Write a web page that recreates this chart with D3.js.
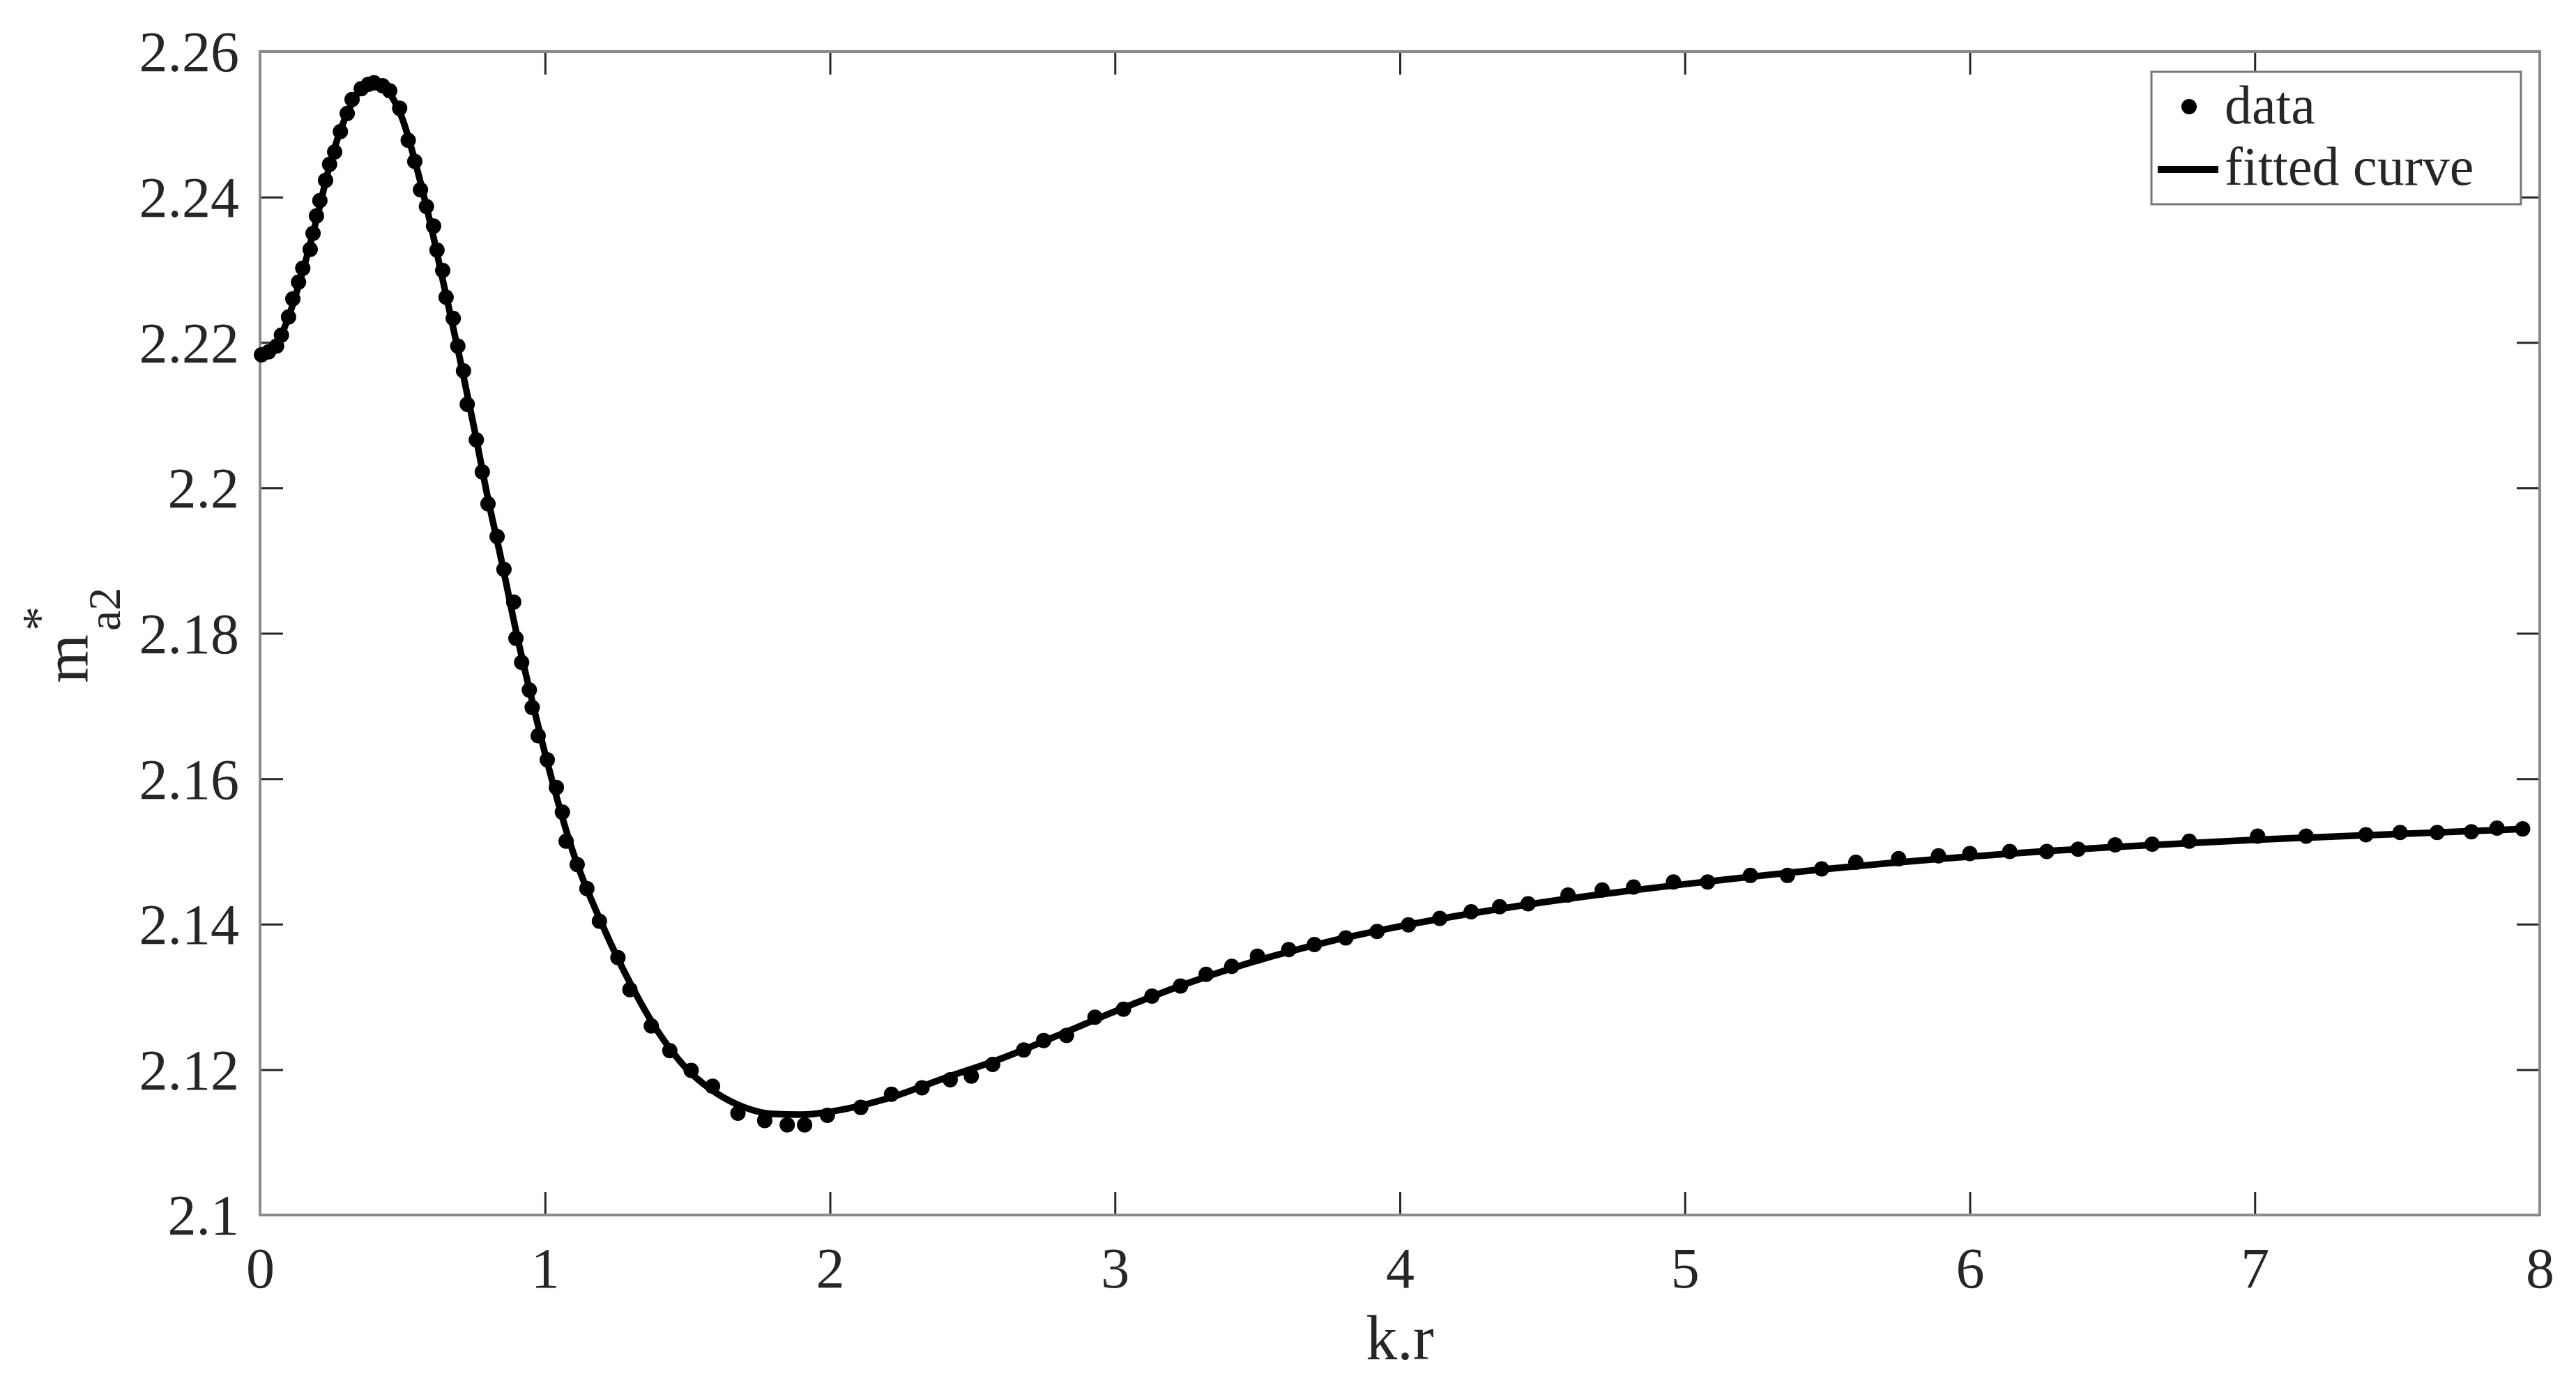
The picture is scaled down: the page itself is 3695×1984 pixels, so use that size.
<!DOCTYPE html>
<html>
<head>
<meta charset="utf-8">
<script src="https://cdn.jsdelivr.net/npm/d3@7"></script>
<style>
  html, body { margin: 0; padding: 0; background: #fff; }
  svg { display: block; }
  text { font-family: "Liberation Serif", "Times New Roman", serif; fill: #262626; }
</style>
</head>
<body>
<svg id="chart" width="3695" height="1984"></svg>
<script>
// ---- data ----
const dataX = [0.005,0.03,0.058,0.075,0.10,0.115,0.135,0.150,0.176,0.186,0.198,0.210,0.230,0.244,0.262,0.282,0.306,0.323,0.355,0.380,0.400,0.430,0.455,0.490,0.520,0.543,0.563,0.584,0.609,0.621,0.641,0.653,0.678,0.694,0.714,0.727,0.759,0.780,0.800,0.832,0.856,0.890,0.898,0.918,0.945,0.955,0.976,1.008,1.040,1.061,1.074,1.113,1.147,1.191,1.256,1.298,1.373,1.438,1.513,1.588,1.677,1.771,1.850,1.911,1.991,2.108,2.216,2.323,2.422,2.496,2.571,2.680,2.750,2.830,2.930,3.030,3.130,3.230,3.320,3.410,3.500,3.610,3.700,3.810,3.920,4.030,4.140,4.250,4.350,4.450,4.590,4.710,4.820,4.960,5.080,5.230,5.360,5.480,5.600,5.750,5.890,6.000,6.140,6.270,6.380,6.510,6.640,6.770,7.010,7.180,7.390,7.510,7.640,7.760,7.850,7.940];
const dataY = [2.2183,2.2187,2.2195,2.2210,2.2235,2.2260,2.2283,2.2302,2.2328,2.2350,2.2374,2.2395,2.2423,2.2445,2.2462,2.2490,2.2515,2.2534,2.2549,2.2555,2.2557,2.2553,2.2546,2.2522,2.2478,2.2449,2.2410,2.2387,2.2360,2.2327,2.2299,2.2262,2.2233,2.2195,2.2161,2.2115,2.2066,2.2022,2.1978,2.1933,2.1888,2.1843,2.1793,2.1760,2.1722,2.1698,2.1659,2.1626,2.1588,2.1554,2.1514,2.1482,2.1449,2.1404,2.1354,2.1310,2.1260,2.1226,2.1199,2.1177,2.1140,2.1130,2.1124,2.1124,2.1137,2.1148,2.1166,2.1175,2.1186,2.1191,2.1207,2.1227,2.1240,2.1247,2.1272,2.1283,2.1301,2.1315,2.1331,2.1342,2.1356,2.1365,2.1372,2.1381,2.1390,2.1399,2.1408,2.1417,2.1424,2.1428,2.1440,2.1447,2.1451,2.1458,2.1458,2.1467,2.1467,2.1476,2.1485,2.1490,2.1494,2.1497,2.1500,2.1500,2.1503,2.1509,2.1510,2.1514,2.1521,2.1521,2.1523,2.1526,2.1526,2.1527,2.1532,2.1531];

const fitX = [0,0.05,0.1,0.15,0.2,0.25,0.3,0.35,0.4,0.45,0.5,0.55,0.6,0.65,0.7,0.75,0.8,0.85,0.9,0.95,1.0,1.1,1.2,1.3,1.4,1.5,1.6,1.7,1.8,1.9,2.0,2.2,2.4,2.6,2.8,3.0,3.25,3.5,3.75,4.0,4.5,5.0,5.5,6.0,6.5,7.0,7.5,7.95];
const fitY = [2.2183,2.2193,2.2235,2.2298,2.2372,2.2452,2.2510,2.2546,2.2557,2.2545,2.2507,2.2440,2.2360,2.2270,2.2180,2.2085,2.1985,2.1895,2.1800,2.1715,2.1635,2.1497,2.1400,2.1318,2.1250,2.1200,2.1168,2.1148,2.1139,2.1138,2.1142,2.1160,2.1188,2.1215,2.1247,2.1280,2.1318,2.1350,2.1376,2.1397,2.1430,2.1455,2.1476,2.1493,2.1506,2.1516,2.1524,2.1531];

const xTicks = [0,1,2,3,4,5,6,7,8];
const yTicks = [2.1,2.12,2.14,2.16,2.18,2.2,2.22,2.24,2.26];
const legendLabels = ["data", "fitted curve"];
const xLabel = "k.r";

// ---- layout ----
const L = 373, R = 3643, T = 74, B = 1743;
const svg = d3.select("#chart");
const x = d3.scaleLinear().domain([0, 8]).range([L, R]);
const y = d3.scaleLinear().domain([2.1, 2.26]).range([B, T]);

const tickLen = 33;
const tickFont = 82;
const fmt = d3.format("~g");

// ticks (inward, on all four sides)
const axB = d3.axisBottom(x).tickValues(xTicks).tickSize(-tickLen).tickPadding(46).tickFormat(fmt);
const axT = d3.axisTop(x).tickValues(xTicks).tickSize(-tickLen).tickFormat("");
const axL = d3.axisLeft(y).tickValues(yTicks).tickSize(-tickLen).tickPadding(30).tickFormat(fmt);
const axR = d3.axisRight(y).tickValues(yTicks).tickSize(-tickLen).tickFormat("");

function styleAxis(g) {
  g.select(".domain").remove();
  g.selectAll(".tick line").attr("stroke", "#262626").attr("stroke-width", 3);
  g.selectAll(".tick text").style("font-family", '"Liberation Serif", serif')
    .style("font-size", tickFont + "px").attr("fill", "#262626");
}
svg.append("g").attr("transform", `translate(0,${B})`).call(axB).call(styleAxis)
  .selectAll(".tick text").attr("dy", "0.71em");
svg.append("g").attr("transform", `translate(0,${T})`).call(axT).call(styleAxis);
svg.append("g").attr("transform", `translate(${L},0)`).call(axL).call(styleAxis)
  .selectAll(".tick text").attr("dy", "0.34em");
svg.append("g").attr("transform", `translate(${R},0)`).call(axR).call(styleAxis);

// axes box
svg.append("rect").attr("x", L).attr("y", T).attr("width", R - L).attr("height", B - T)
  .attr("fill", "none").attr("stroke", "#8a8a8a").attr("stroke-width", 4);

// fitted curve
const fit = fitX.map((d, i) => [d, fitY[i]]);
svg.append("path").datum(fit)
  .attr("fill", "none").attr("stroke", "#000").attr("stroke-width", 9.5)
  .attr("stroke-linejoin", "round").attr("stroke-linecap", "butt")
  .attr("d", d3.line().x(d => x(d[0])).y(d => y(d[1])).curve(d3.curveMonotoneX));

// data points
const pts = dataX.map((d, i) => [d, dataY[i]]);
svg.append("g").selectAll("circle").data(pts).join("circle")
  .attr("cx", d => x(d[0])).attr("cy", d => y(d[1])).attr("r", 11).attr("fill", "#000");

// x label
svg.append("text").attr("x", (L + R) / 2).attr("y", 1950).attr("text-anchor", "middle")
  .style("font-size", "90px").text(xLabel);

// y label: m with superscript * and subscript a2
const yl = svg.append("g");
yl.append("text").attr("transform", "translate(126,980) rotate(-90)")
  .style("font-size", "90px").text("m");
yl.append("text").attr("transform", "translate(172,905) rotate(-90)")
  .style("font-size", "66px").text("a2");
yl.append("text").attr("transform", "translate(80,905) rotate(-90)")
  .style("font-size", "70px").text("*");

// legend
const lg = svg.append("g");
lg.append("rect").attr("x", 3086).attr("y", 103).attr("width", 3616 - 3086).attr("height", 293 - 103)
  .attr("fill", "#fff").attr("stroke", "#777").attr("stroke-width", 3);
lg.append("circle").attr("cx", 3140).attr("cy", 153).attr("r", 11).attr("fill", "#000");
lg.append("line").attr("x1", 3095).attr("x2", 3182).attr("y1", 243).attr("y2", 243)
  .attr("stroke", "#000").attr("stroke-width", 10);
lg.append("text").attr("x", 3191).attr("y", 177).style("font-size", "78px").attr("fill", "#000").text(legendLabels[0]);
lg.append("text").attr("x", 3191).attr("y", 265).style("font-size", "78px").attr("fill", "#000").text(legendLabels[1]);
</script>
</body>
</html>
